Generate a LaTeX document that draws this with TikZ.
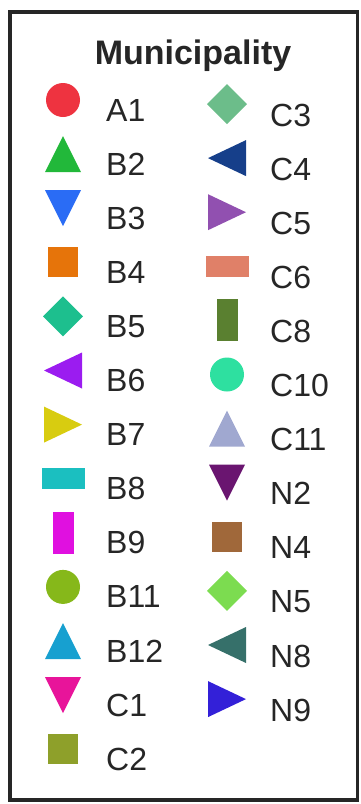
\documentclass[tikz,border=0pt]{standalone}
\usepackage{fontspec}
\setmainfont{Liberation Sans}
\usetikzlibrary{shapes.geometric}
\definecolor{cA1}{HTML}{EE3340}
\definecolor{cB2}{HTML}{22B83A}
\definecolor{cB3}{HTML}{2A6CF5}
\definecolor{cB4}{HTML}{E6740A}
\definecolor{cB5}{HTML}{1DBF8E}
\definecolor{cB6}{HTML}{9B1CF0}
\definecolor{cB7}{HTML}{D8CC10}
\definecolor{cB8}{HTML}{1BBFC0}
\definecolor{cB9}{HTML}{E010E0}
\definecolor{cB11}{HTML}{86B81A}
\definecolor{cB12}{HTML}{17A0D0}
\definecolor{cC1}{HTML}{E8149A}
\definecolor{cC2}{HTML}{8EA02A}
\definecolor{cC3}{HTML}{6CBD8A}
\definecolor{cC4}{HTML}{163F8A}
\definecolor{cC5}{HTML}{9150B0}
\definecolor{cC6}{HTML}{E08068}
\definecolor{cC8}{HTML}{5A8030}
\definecolor{cC10}{HTML}{2EE0A0}
\definecolor{cC11}{HTML}{A0A8D0}
\definecolor{cN2}{HTML}{6A1570}
\definecolor{cN4}{HTML}{A0683A}
\definecolor{cN5}{HTML}{7CDC50}
\definecolor{cN8}{HTML}{36706A}
\definecolor{cN9}{HTML}{3320D8}
\newcommand\symcirc[2]{\fill[#2] (#1) circle (17);}
\newcommand\symsq[2]{\fill[#2,shift={(#1)}] (-15,-15) rectangle (15,15);}
\newcommand\symdia[2]{\fill[#2,shift={(#1)}] (-20,0) -- (0,20) -- (20,0) -- (0,-20) -- cycle;}
\newcommand\symhrect[2]{\fill[#2,shift={(#1)}] (-21.5,-10.5) rectangle (21.5,10.5);}
\newcommand\symvrect[2]{\fill[#2,shift={(#1)}] (-10.5,-21) rectangle (10.5,21);}
\newcommand\symup[2]{\fill[#2,shift={(#1)}] (-18,-18) -- (18,-18) -- (0,18) -- cycle;}
\newcommand\symdown[2]{\fill[#2,shift={(#1)}] (-18,18) -- (18,18) -- (0,-18) -- cycle;}
\newcommand\symleft[2]{\fill[#2,shift={(#1)}] (-19,0) -- (19,18) -- (19,-18) -- cycle;}
\newcommand\symright[2]{\fill[#2,shift={(#1)}] (19,0) -- (-19,18) -- (-19,-18) -- cycle;}
\tikzset{lab/.style={anchor=west,inner sep=0pt,font=\fontsize{32}{32}\selectfont,text=black!85}}
\begin{document}
\begin{tikzpicture}[x=1pt,y=1pt]
\useasboundingbox (0,0) rectangle (360,-804);
\draw[line width=3.5pt,black!85] (10,-12) rectangle (357.5,-800);
\node[anchor=base,inner sep=0pt,font=\fontsize{34}{34}\selectfont\bfseries,text=black!85] (title) at (193,-64) {Municipality};
% left column
\foreach \i/\n/\s in {0/A1/circ,1/B2/up,2/B3/down,3/B4/sq,4/B5/dia,5/B6/left,6/B7/right,7/B8/hrect,8/B9/vrect,9/B11/circ,10/B12/up,11/C1/down,12/C2/sq}{
  \coordinate (s\n) at (63,{-100-54.1*\i});
  \csname sym\s\endcsname{s\n}{c\n}
  \node[lab] (l\n) at (106,{-110-54.1*\i}) {\n};
}
% right column
\foreach \i/\n/\s in {0/C3/dia,1/C4/left,2/C5/right,3/C6/hrect,4/C8/vrect,5/C10/circ,6/C11/up,7/N2/down,8/N4/sq,9/N5/dia,10/N8/left,11/N9/right}{
  \coordinate (s\n) at (227,{-104-54.1*\i});
  \csname sym\s\endcsname{s\n}{c\n}
  \node[lab] (l\n) at (270,{-115-54.1*\i}) {\n};
}
\end{tikzpicture}
\end{document}
